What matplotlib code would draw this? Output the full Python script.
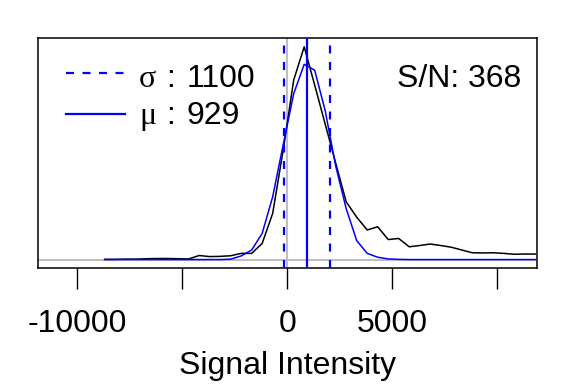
import matplotlib
matplotlib.use("Agg")
import matplotlib.pyplot as plt
import numpy as np

plt.rcParams['font.family'] = ['Liberation Sans', 'DejaVu Sans']
plt.rcParams['lines.scale_dashes'] = False

# ---- data ----
x_start = -8700
x_step = 500
observed = [0.002, 0.002, 0.003, 0.003, 0.005, 0.006, 0.006, 0.005, 0.004, 0.020,
            0.015, 0.016, 0.019, 0.030, 0.030, 0.077, 0.218, 0.515, 0.844, 1.000,
            0.820, 0.637, 0.454, 0.272, 0.200, 0.140, 0.155, 0.095, 0.100, 0.061,
            0.067, 0.074, 0.067, 0.059, 0.046, 0.033, 0.032, 0.033, 0.030, 0.026,
            0.027, 0.027]
fitted = [0.001, 0.001, 0.001, 0.001, 0.001, 0.001, 0.001, 0.001, 0.001, 0.001,
          0.001, 0.001, 0.003, 0.018, 0.046, 0.124, 0.296, 0.540, 0.780, 0.918,
          0.890, 0.700, 0.440, 0.240, 0.090, 0.030, 0.012, 0.004, 0.002, 0.001,
          0.001, 0.001, 0.001, 0.001, 0.001, 0.001, 0.001, 0.001, 0.001, 0.001,
          0.001, 0.001]
xs = [x_start + x_step * i for i in range(len(observed))]
mu = 929
sigma = 1100
snr = 368
tick_values = [-10000, -5000, 0, 5000, 10000]
tick_labels = ['-10000', '', '0', '5000', '']

fig = plt.figure(figsize=(5.76, 3.84), dpi=100)
L, R, T, B = 38.3, 536.7, 38.3, 268.3
ax = fig.add_axes([L / 576, 1 - B / 384, (R - L) / 576, (B - T) / 384])

blue = '#0000FF'
gray = '#BEBEBE'
ax.axhline(0, color=gray, lw=1.5, zorder=1)
ax.axvline(0, color=gray, lw=1.5, zorder=1)
ax.plot(xs, observed, color='black', lw=1.1, zorder=2)
ax.plot(xs, fitted, color=blue, lw=1.1, zorder=3)
dash = (0, (8 * 0.72, 8.5 * 0.72))
ax.axvline(mu - sigma, color=blue, lw=1.6, ls=dash, zorder=4)
ax.axvline(mu + sigma, color=blue, lw=1.6, ls=dash, zorder=4)
ax.axvline(mu, color=blue, lw=1.6, zorder=4)

ax.set_xlim(-11860, 11870)
ax.set_ylim(-0.04, 1.04)
ax.set_yticks([])
ax.set_xticks(tick_values)
ax.set_xticklabels(tick_labels)
ax.tick_params(axis='x', direction='out', length=15, width=1.0, pad=14,
               labelsize=23)
for s in ax.spines.values():
    s.set_linewidth(1.1)
ax.set_xlabel('Signal Intensity', fontsize=23, labelpad=9)

# legend (manual)
def ax_x(px):
    return (px - L) / (R - L)

def ax_y(py):
    return (B - py) / (B - T)

fs = 23
ax.plot([ax_x(66), ax_x(125)], [ax_y(73.3)] * 2, transform=ax.transAxes,
        color=blue, lw=1.6, ls=dash, clip_on=False)
ax.plot([ax_x(66), ax_x(125)], [ax_y(114.3)] * 2, transform=ax.transAxes,
        color=blue, lw=1.6, clip_on=False)
for sym, val, base in [('σ', str(sigma), 86.7), ('μ', str(mu), 124.0)]:
    ax.text(ax_x(139), ax_y(base), sym, transform=ax.transAxes, fontsize=fs,
            family=['Liberation Serif', 'DejaVu Serif'], va='baseline', ha='left')
    ax.text(ax_x(166), ax_y(base), ':', transform=ax.transAxes, fontsize=fs,
            va='baseline', ha='left')
    ax.text(ax_x(186.7), ax_y(base), val, transform=ax.transAxes, fontsize=fs,
            va='baseline', ha='left')
ax.text(ax_x(521.7), ax_y(86.7), 'S/N: %d' % snr, transform=ax.transAxes,
        fontsize=fs, va='baseline', ha='right')

fig.savefig('out.png', dpi=100)
